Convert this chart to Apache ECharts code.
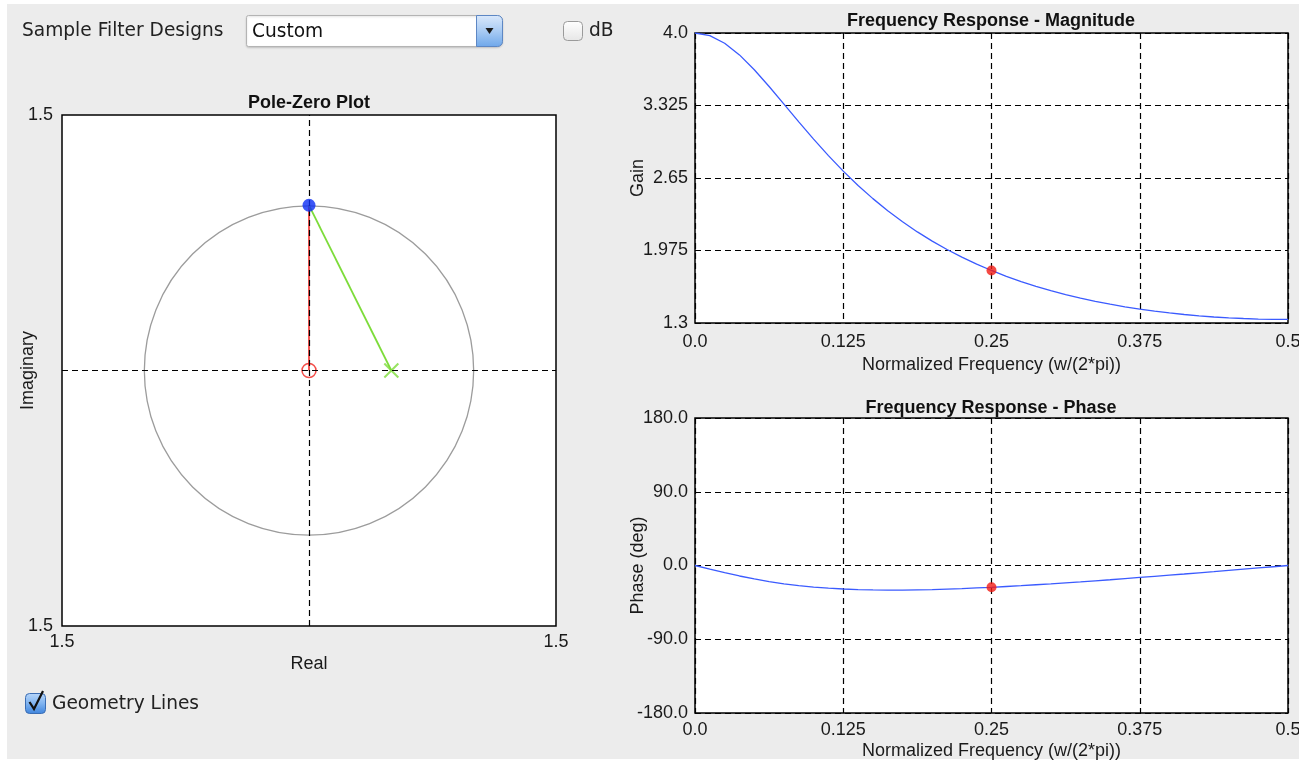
<!DOCTYPE html>
<html>
<head>
<meta charset="utf-8">
<script src="https://cdn.jsdelivr.net/npm/echarts@6/dist/echarts.min.js"></script>
<style>
  html, body { margin: 0; padding: 0; background: #ffffff; }
  #bg { position: absolute; left: 7px; top: 4px; width: 1292px; height: 755px; background: #ececec; }
  #main { position: absolute; left: 0; top: 0; width: 1299px; height: 764px; }
</style>
</head>
<body>
<div id="bg"></div>
<div id="main"></div>
<script>
// ---------------- DATA ----------------
// Normalized frequency samples (w / 2pi)
const freq = [0, 0.0125, 0.025, 0.0375, 0.05, 0.0625, 0.075, 0.0875, 0.1, 0.1125, 0.125,
              0.1375, 0.15, 0.1625, 0.175, 0.1875, 0.2, 0.2125, 0.225, 0.2375, 0.25,
              0.2625, 0.275, 0.2875, 0.3, 0.3125, 0.325, 0.3375, 0.35, 0.3625, 0.375,
              0.3875, 0.4, 0.4125, 0.425, 0.4375, 0.45, 0.4625, 0.475, 0.4875, 0.5];
// Magnitude response (gain)
const gain = [4.0, 3.976, 3.905, 3.796, 3.658, 3.502, 3.338, 3.173, 3.012, 2.858, 2.714,
              2.581, 2.458, 2.345, 2.242, 2.148, 2.062, 1.984, 1.913, 1.848, 1.789,
              1.735, 1.686, 1.642, 1.602, 1.565, 1.532, 1.502, 1.475, 1.451, 1.430,
              1.411, 1.394, 1.379, 1.367, 1.356, 1.348, 1.342, 1.337, 1.334, 1.333];
// Phase response (degrees)
const phase = [0, -4.5, -8.8, -12.8, -16.4, -19.6, -22.3, -24.5, -26.3, -27.7, -28.7,
               -29.4, -29.8, -30.0, -30.0, -29.7, -29.4, -28.8, -28.2, -27.4, -26.6,
               -25.6, -24.6, -23.5, -22.4, -21.2, -20.0, -18.7, -17.4, -16.0, -14.6,
               -13.2, -11.8, -10.4, -8.9, -7.5, -6.0, -4.5, -3.0, -1.5, 0];
// Selected evaluation frequency marker
const evalFreq = 0.25;
const evalGain = 1.789;
const evalPhase = -26.6;
// Pole-zero plot
const zeros = [[0, 0]];
const poles = [[0.5, 0]];
const evalPoint = [0, 0.97];
const unitCircleCenter = [0, 0];
const unitCircleRadius = 1;
// Tick values and labels
const freqTicks = [0, 0.125, 0.25, 0.375, 0.5];
const freqTickLabels = ['0.0', '0.125', '0.25', '0.375', '0.5'];
const gainTicks = [1.3, 1.975, 2.65, 3.325, 4.0];
const gainTickLabels = ['1.3', '1.975', '2.65', '3.325', '4.0'];
const phaseTicks = [-180, -90, 0, 90, 180];
const phaseTickLabels = ['-180.0', '-90.0', '0.0', '90.0', '180.0'];
const pzTicks = [-1.5, 1.5];
const pzTickLabels = ['1.5', '1.5'];

// ---------------- STYLE ----------------
const FONT = "'Liberation Sans', Arial, Helvetica, sans-serif";
const UIFONT = "'DejaVu Sans', 'Lucida Grande', sans-serif";
const TXT = '#1a1a1a';
const FS = 18;
const dashed = { color: '#000', width: 1.2, type: [6, 4] };

function labelFrom(ticks, labels) {
  return function (v) {
    for (let i = 0; i < ticks.length; i++) {
      if (Math.abs(ticks[i] - v) < 1e-9) return labels[i];
    }
    return '';
  };
}

const gridBase = { show: true, backgroundColor: '#ffffff', borderColor: '#000', borderWidth: 1.5, outerBoundsMode: 'none', containLabel: false };
const axisLabelBase = { color: TXT, fontFamily: FONT, fontSize: FS };
const nameStyle = { color: TXT, fontFamily: FONT, fontSize: FS };

const chart = echarts.init(document.getElementById('main'), null, { renderer: 'canvas' });

const option = {
  backgroundColor: 'transparent',
  animation: false,
  textStyle: { fontFamily: FONT },
  grid: [
    Object.assign({ left: 62, top: 115, width: 494, height: 511 }, gridBase),   // pole-zero
    Object.assign({ left: 695, top: 33, width: 593, height: 290 }, gridBase),   // magnitude
    Object.assign({ left: 695, top: 418, width: 593, height: 295 }, gridBase)   // phase
  ],
  xAxis: [
    {
      gridIndex: 0, type: 'value', min: -1.5, max: 1.5,
      name: 'Real', nameLocation: 'middle', nameGap: 29, nameMoveOverlap: false, nameTextStyle: nameStyle,
      axisLine: { show: false }, splitLine: { show: false },
      axisTick: { show: false, customValues: pzTicks },
      axisLabel: Object.assign({ customValues: pzTicks, margin: 7, formatter: labelFrom(pzTicks, pzTickLabels) }, axisLabelBase)
    },
    {
      gridIndex: 1, type: 'value', min: 0, max: 0.5, interval: 0.125,
      name: 'Normalized Frequency (w/(2*pi))', nameLocation: 'middle', nameGap: 33, nameMoveOverlap: false, nameTextStyle: nameStyle,
      axisLine: { show: false }, axisTick: { show: false },
      splitLine: { show: true, lineStyle: dashed },
      axisLabel: Object.assign({ margin: 10, formatter: labelFrom(freqTicks, freqTickLabels) }, axisLabelBase)
    },
    {
      gridIndex: 2, type: 'value', min: 0, max: 0.5, interval: 0.125,
      name: 'Normalized Frequency (w/(2*pi))', nameLocation: 'middle', nameGap: 29, nameMoveOverlap: false, nameTextStyle: nameStyle,
      axisLine: { show: false }, axisTick: { show: false },
      splitLine: { show: true, lineStyle: dashed },
      axisLabel: Object.assign({ margin: 8, formatter: labelFrom(freqTicks, freqTickLabels) }, axisLabelBase)
    }
  ],
  yAxis: [
    {
      gridIndex: 0, type: 'value', min: -1.5, max: 1.5,
      name: 'Imaginary', nameLocation: 'middle', nameGap: 25, nameMoveOverlap: false, nameTextStyle: nameStyle,
      axisLine: { show: false }, splitLine: { show: false },
      axisTick: { show: false, customValues: pzTicks },
      axisLabel: Object.assign({ customValues: pzTicks, margin: 9, formatter: labelFrom(pzTicks, pzTickLabels) }, axisLabelBase)
    },
    {
      gridIndex: 1, type: 'value', min: 1.3, max: 4.0,
      name: 'Gain', nameLocation: 'middle', nameGap: 48, nameMoveOverlap: false, nameTextStyle: nameStyle,
      axisLine: { show: false },
      axisTick: { show: false, customValues: gainTicks },
      splitLine: { show: true, lineStyle: dashed },
      axisLabel: Object.assign({ customValues: gainTicks, margin: 7, formatter: labelFrom(gainTicks, gainTickLabels) }, axisLabelBase)
    },
    {
      gridIndex: 2, type: 'value', min: -180, max: 180, interval: 90,
      name: 'Phase (deg)', nameLocation: 'middle', nameGap: 48, nameMoveOverlap: false, nameTextStyle: nameStyle,
      axisLine: { show: false }, axisTick: { show: false },
      splitLine: { show: true, lineStyle: dashed },
      axisLabel: Object.assign({ margin: 7, formatter: labelFrom(phaseTicks, phaseTickLabels) }, axisLabelBase)
    }
  ],
  graphic: [
    // plot titles
    { type: 'text', x: 309, y: 103, style: { text: 'Pole-Zero Plot', font: 'bold 18px ' + FONT, fill: '#111', align: 'center', verticalAlign: 'middle' } },
    { type: 'text', x: 991, y: 21, style: { text: 'Frequency Response - Magnitude', font: 'bold 18px ' + FONT, fill: '#111', align: 'center', verticalAlign: 'middle' } },
    { type: 'text', x: 991, y: 408, style: { text: 'Frequency Response - Phase', font: 'bold 18px ' + FONT, fill: '#111', align: 'center', verticalAlign: 'middle' } },
    // UI: Sample Filter Designs combo
    { type: 'text', x: 22, y: 31, style: { text: 'Sample Filter Designs', font: '18.6px ' + UIFONT, fill: '#222', verticalAlign: 'middle' } },
    { type: 'rect', shape: { x: 246.5, y: 15.5, width: 256, height: 31, r: [2, 5, 5, 2] },
      style: { fill: '#ffffff', stroke: '#b4b4b4', lineWidth: 1, shadowBlur: 2, shadowColor: 'rgba(0,0,0,0.15)', shadowOffsetY: 1 } },
    { type: 'text', x: 252, y: 32, style: { text: 'Custom', font: '18.6px ' + UIFONT, fill: '#111', verticalAlign: 'middle' } },
    { type: 'rect', shape: { x: 476.5, y: 15.5, width: 26, height: 31, r: [0, 5, 5, 0] },
      style: { fill: new echarts.graphic.LinearGradient(0, 0, 0, 1, [{ offset: 0, color: '#dbe9fb' }, { offset: 0.5, color: '#a9cbf3' }, { offset: 1, color: '#6ea7ea' }]),
               stroke: '#5d87c4', lineWidth: 1 } },
    { type: 'polygon', shape: { points: [[485.5, 28], [493.5, 28], [489.5, 34]] }, style: { fill: '#1b1b1b' } },
    // UI: dB checkbox
    { type: 'rect', shape: { x: 563.5, y: 21.5, width: 19, height: 19, r: 4 },
      style: { fill: new echarts.graphic.LinearGradient(0, 0, 0, 1, [{ offset: 0, color: '#ffffff' }, { offset: 1, color: '#e6e6e6' }]), stroke: '#9a9a9a', lineWidth: 1 } },
    { type: 'text', x: 589, y: 31, style: { text: 'dB', font: '18.6px ' + UIFONT, fill: '#222', verticalAlign: 'middle' } },
    // UI: Geometry Lines checkbox
    { type: 'rect', shape: { x: 25.5, y: 693.5, width: 20, height: 20, r: 4 },
      style: { fill: new echarts.graphic.LinearGradient(0, 0, 0, 1, [{ offset: 0, color: '#b9d7fa' }, { offset: 0.5, color: '#7fb3f0' }, { offset: 1, color: '#3d83dc' }]), stroke: '#3b6db3', lineWidth: 1 } },
    { type: 'polyline', shape: { points: [[29.5, 702], [34, 709], [43, 691]] }, style: { stroke: '#111', lineWidth: 2.2, fill: null } },
    { type: 'text', x: 52, y: 704, style: { text: 'Geometry Lines', font: '18.6px ' + UIFONT, fill: '#222', verticalAlign: 'middle' } }
  ],
  series: [
    // ----- Pole-zero plot -----
    {
      type: 'custom', xAxisIndex: 0, yAxisIndex: 0, z: 1, silent: true,
      data: [unitCircleCenter.concat([unitCircleRadius])],
      renderItem: function (params, api) {
        const c = api.coord([api.value(0), api.value(1)]);
        const r = api.size([api.value(2), 0])[0];
        return { type: 'circle', shape: { cx: c[0], cy: c[1], r: r }, style: { fill: 'none', stroke: '#9c9c9c', lineWidth: 1.3 } };
      },
      markLine: {
        silent: true, symbol: 'none', label: { show: false }, animation: false,
        lineStyle: dashed,
        data: [{ xAxis: 0 }, { yAxis: 0 }]
      }
    },
    {
      type: 'line', xAxisIndex: 0, yAxisIndex: 0, z: 3, silent: true, symbol: 'none',
      data: [evalPoint, zeros[0]], lineStyle: { color: '#f0201c', width: 1.5 }
    },
    {
      type: 'line', xAxisIndex: 0, yAxisIndex: 0, z: 3, silent: true, symbol: 'none',
      data: [evalPoint, poles[0]], lineStyle: { color: '#7ddc3a', width: 1.8 }
    },
    {
      type: 'scatter', xAxisIndex: 0, yAxisIndex: 0, z: 4, silent: true,
      data: zeros, symbol: 'circle', symbolSize: 14,
      itemStyle: { color: 'rgba(255,255,255,0)', borderColor: '#f0201c', borderWidth: 1.5 }
    },
    {
      type: 'scatter', xAxisIndex: 0, yAxisIndex: 0, z: 4, silent: true,
      data: poles, symbol: 'path://M0,0L10,10M10,0L0,10', symbolSize: 14,
      itemStyle: { color: 'none', borderColor: '#7ddc3a', borderWidth: 2 }
    },
    {
      type: 'scatter', xAxisIndex: 0, yAxisIndex: 0, z: 5, silent: true,
      data: [evalPoint], symbol: 'circle', symbolSize: 13,
      itemStyle: { color: '#0b2df5' }
    },
    // ----- Magnitude -----
    {
      type: 'line', xAxisIndex: 1, yAxisIndex: 1, smooth: false, symbol: 'none', silent: true, z: 3,
      data: freq.map((f, i) => [f, gain[i]]),
      lineStyle: { color: '#3b5bff', width: 1.3 }
    },
    {
      type: 'scatter', xAxisIndex: 1, yAxisIndex: 1, silent: true, z: 4,
      data: [[evalFreq, evalGain]], symbolSize: 10, itemStyle: { color: '#f21b14' }
    },
    // ----- Phase -----
    {
      type: 'line', xAxisIndex: 2, yAxisIndex: 2, smooth: false, symbol: 'none', silent: true, z: 3,
      data: freq.map((f, i) => [f, phase[i]]),
      lineStyle: { color: '#3b5bff', width: 1.3 }
    },
    {
      type: 'scatter', xAxisIndex: 2, yAxisIndex: 2, silent: true, z: 4,
      data: [[evalFreq, evalPhase]], symbolSize: 10, itemStyle: { color: '#f21b14' }
    }
  ]
};

chart.setOption(option);
</script>
</body>
</html>
